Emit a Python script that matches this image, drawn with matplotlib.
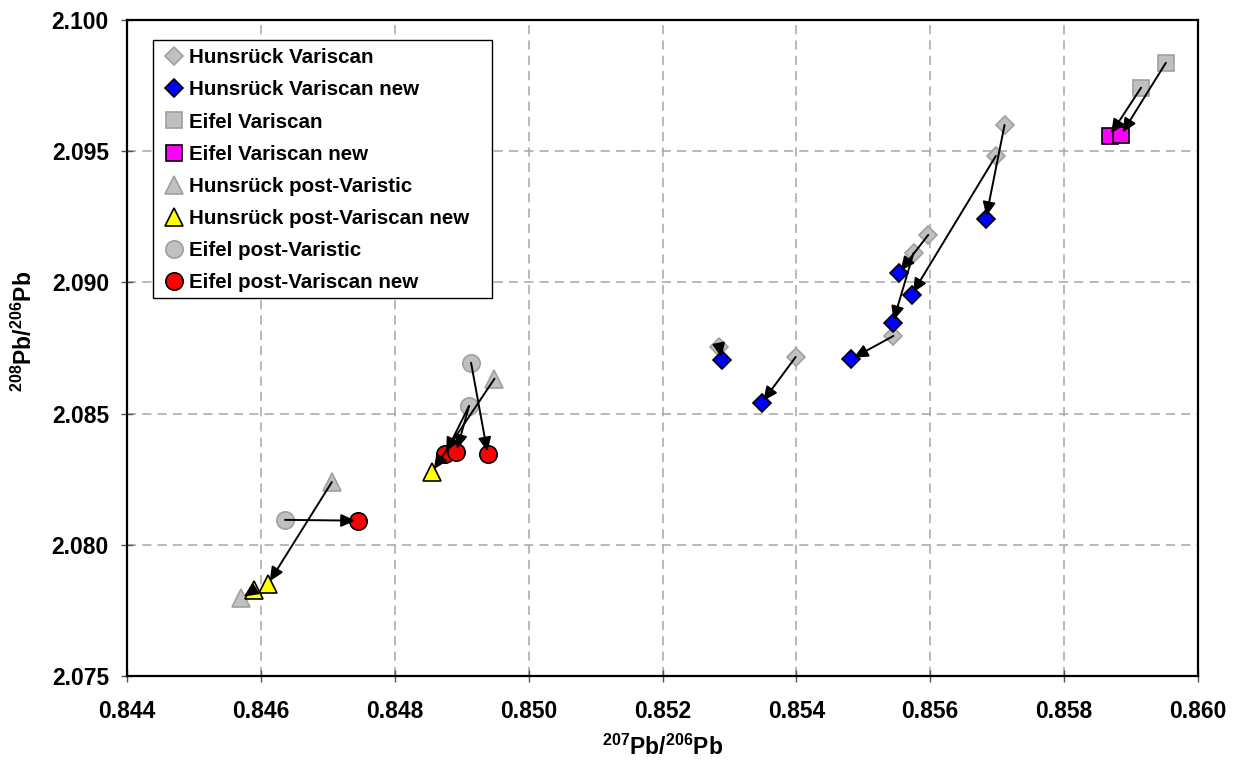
import matplotlib
matplotlib.use("Agg")
import matplotlib.pyplot as plt
from matplotlib.patches import Rectangle

plt.rcParams['font.family'] = ['Liberation Sans', 'DejaVu Sans']
plt.rcParams['font.weight'] = 'bold'
plt.rcParams['mathtext.fontset'] = 'custom'
plt.rcParams['mathtext.rm'] = 'Liberation Sans:bold'
plt.rcParams['mathtext.bf'] = 'Liberation Sans:bold'
plt.rcParams['mathtext.default'] = 'bf'

# ---------------- data ----------------
hv_x = [0.85285, 0.85399, 0.85545, 0.85597, 0.85575, 0.85698, 0.85711]
hv_y = [2.08754, 2.08716, 2.08796, 2.09181, 2.09112, 2.09482, 2.09600]
hvn_x = [0.85289, 0.85348, 0.85482, 0.85553, 0.85544, 0.85572, 0.85683]
hvn_y = [2.08704, 2.08540, 2.08708, 2.09036, 2.08845, 2.08952, 2.09242]

ev_x = [0.85915, 0.85952]
ev_y = [2.09742, 2.09837]
evn_x = [0.85868, 0.85885]
evn_y = [2.09559, 2.09562]

hp_x = [0.84706, 0.84571, 0.84949]
hp_y = [2.08239, 2.07797, 2.08633]
hpn_x = [0.84611, 0.84589, 0.84856]
hpn_y = [2.07852, 2.07827, 2.08279]

ep_x = [0.84636, 0.84914, 0.84911]
ep_y = [2.08095, 2.08694, 2.08529]
epn_x = [0.84745, 0.84875, 0.84892, 0.84939]
epn_y = [2.08092, 2.08345, 2.08355, 2.08345]

# arrows: (from series, index, to series, index)
arrows = [
    ("hv", 0, "hvn", 0), ("hv", 1, "hvn", 1), ("hv", 2, "hvn", 2),
    ("hv", 3, "hvn", 3), ("hv", 4, "hvn", 4), ("hv", 5, "hvn", 5),
    ("hv", 6, "hvn", 6),
    ("ev", 0, "evn", 0), ("ev", 1, "evn", 1),
    ("hp", 0, "hpn", 0), ("hpn", 1, "hp", 1), ("hp", 2, "hpn", 2),
    ("ep", 0, "epn", 0), ("ep", 1, "epn", 3), ("ep", 2, "epn", 1),
    ("ep", 2, "epn", 2),
]

labels = ["Hunsrück Variscan", "Hunsrück Variscan new", "Eifel Variscan",
          "Eifel Variscan new", "Hunsrück post-Varistic",
          "Hunsrück post-Variscan new", "Eifel post-Varistic",
          "Eifel post-Variscan new"]

x_ticks = [0.844, 0.846, 0.848, 0.850, 0.852, 0.854, 0.856, 0.858, 0.860]
y_ticks = [2.075, 2.080, 2.085, 2.090, 2.095, 2.100]

series = {
    "hv": (hv_x, hv_y), "hvn": (hvn_x, hvn_y),
    "ev": (ev_x, ev_y), "evn": (evn_x, evn_y),
    "hp": (hp_x, hp_y), "hpn": (hpn_x, hpn_y),
    "ep": (ep_x, ep_y), "epn": (epn_x, epn_y),
}

# ---------------- figure ----------------
W, H = 1235, 760
fig = plt.figure(figsize=(W/100, H/100), dpi=100)
ax = fig.add_axes([127/W, 1-676/H, (1198-127)/W, (676-20)/H])

GRAY = '#C0C0C0'
GEDGE = '#A0A0A0'
styles = {
    "hv": dict(marker='D', ms=9.5, mfc=GRAY, mec=GEDGE, mew=1.2),
    "hvn": dict(marker='D', ms=9.5, mfc='#0000FF', mec='black', mew=1.2),
    "ev": dict(marker='s', ms=12, mfc=GRAY, mec=GEDGE, mew=1.2),
    "evn": dict(marker='s', ms=11.5, mfc='#FF00FF', mec='black', mew=1.2),
    "hp": dict(marker='^', ms=12.5, mfc=GRAY, mec=GEDGE, mew=1.2),
    "hpn": dict(marker='^', ms=12.5, mfc='#FFFF00', mec='black', mew=1.2),
    "ep": dict(marker='o', ms=12.5, mfc=GRAY, mec=GEDGE, mew=1.2),
    "epn": dict(marker='o', ms=12.5, mfc='#FF0000', mec='black', mew=1.2),
}
order = ["hv", "hvn", "ev", "evn", "hp", "hpn", "ep", "epn"]
zorders = {"hv": 3, "ev": 3, "hp": 3, "ep": 3,
           "hvn": 4, "evn": 4, "hpn": 4, "epn": 4}
for key in order:
    xs, ys = series[key]
    ax.plot(xs, ys, linestyle='none', zorder=zorders[key],
            clip_on=False, **styles[key])

for s_from, i_from, s_to, i_to in arrows:
    x0 = series[s_from][0][i_from]
    y0 = series[s_from][1][i_from]
    x1 = series[s_to][0][i_to]
    y1 = series[s_to][1][i_to]
    ax.annotate('', xy=(x1, y1), xytext=(x0, y0), zorder=5,
                arrowprops=dict(arrowstyle='-|>,head_length=0.7,head_width=0.32',
                                color='black', lw=1.4, mutation_scale=12,
                                shrinkA=0, shrinkB=2))

ax.set_xlim(0.844, 0.860)
ax.set_ylim(2.075, 2.100)
ax.set_xticks(x_ticks)
ax.set_yticks(y_ticks)
ax.set_xticklabels([f"{v:.3f}" for v in x_ticks])
ax.set_yticklabels([f"{v:.3f}" for v in y_ticks])
ax.tick_params(direction='inout', length=8, width=1, labelsize=16.5,
               color='#555555')
ax.tick_params(axis='x', pad=13)
ax.tick_params(axis='y', pad=9)
for lab in ax.get_xticklabels() + ax.get_yticklabels():
    lab.set_fontweight('bold')

ax.grid(True, color='#A6A6A6', linestyle=(0, (6, 4)), linewidth=1.1)
ax.set_axisbelow(True)
for sp in ax.spines.values():
    sp.set_linewidth(1.6)
    sp.set_color('black')

ax.set_xlabel(r'$^{207}$Pb/$^{206}$Pb', fontsize=16.5, fontweight='bold')
ax.set_ylabel(r'$^{208}$Pb/$^{206}$Pb', fontsize=16.5, fontweight='bold')
ax.xaxis.set_label_coords(0.5, -(760-676)/656, transform=ax.transAxes)
ax.xaxis.label.set_va('bottom')
ax.yaxis.set_label_coords(-(127-12)/1071, (676-331)/656, transform=ax.transAxes)
ax.yaxis.label.set_va('top')

# legend box (frame drawn as a rectangle in figure pixels)
frame = Rectangle((153/W, 1-298/H), (492-153)/W, (298-40)/H,
                  transform=fig.transFigure, facecolor='white',
                  edgecolor='black', linewidth=1.0, zorder=9)
fig.add_artist(frame)

leg_handles = []
for key in order:
    h, = ax.plot([], [], linestyle='none', **styles[key])
    leg_handles.append(h)
leg = ax.legend(leg_handles, labels, loc='upper left',
                bbox_to_anchor=(153/W, 1-37/H), bbox_transform=fig.transFigure,
                borderaxespad=0, frameon=False,
                prop=dict(family='Liberation Sans', weight='bold', size=14.8),
                handlelength=0.9, handletextpad=0.3, borderpad=0.55,
                labelspacing=0.64)
leg.set_zorder(10)
leg.remove()
fig.add_artist(leg)

fig.savefig('out.png', dpi=100)
